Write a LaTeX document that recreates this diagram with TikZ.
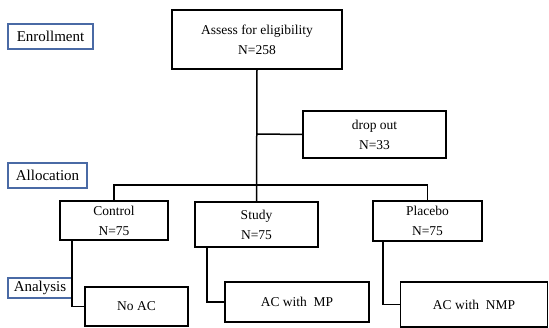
\documentclass[tikz,border=0pt]{standalone}
\usepackage{fontspec}
\setmainfont{Liberation Serif}
\definecolor{lblblue}{HTML}{4A6AA5}
\tikzset{
  box/.style={draw=black, line width=1.5pt, inner sep=0pt, align=center,
    font=\fontsize{13.5}{20}\selectfont},
  lbl/.style={draw=lblblue, line width=1.2pt, inner sep=0pt,
    font=\fontsize{15}{18}\selectfont},
  conn/.style={draw=black, line width=1.5pt}
}
\begin{document}
\begin{tikzpicture}[x=1pt,y=-1pt]
\useasboundingbox (0,0) rectangle (549,328);
% labels
\node[lbl, minimum width=85, minimum height=25] (enroll) at (50.5,36.5) {Enrollment};
\node[lbl, minimum width=79, minimum height=25] (alloc) at (47.5,175.5) {Allocation};
\node[lbl, minimum width=64, minimum height=20] (anal) at (40,288) {Analysis};
% boxes
\node[box, minimum width=170, minimum height=59] (assess) at (257,39.5) {Assess for eligibility\\N=258};
\node[box, minimum width=143, minimum height=47] (drop) at (374.5,134.5) {drop out\\N=33};
\node[box, minimum width=108, minimum height=39] (control) at (114,220.5) {Control\\N=75};
\node[box, minimum width=123, minimum height=45] (study) at (256.5,224.5) {Study\\N=75};
\node[box, minimum width=109, minimum height=40] (placebo) at (427.5,221) {Placebo\\N=75};
\node[box, minimum width=103, minimum height=39] (noac) at (136.5,306.5) {No AC};
\node[box, minimum width=144, minimum height=40] (acmp) at (297,302) {AC with \ MP};
\node[box, minimum width=147, minimum height=45] (acnmp) at (474,304.5) {AC with \ NMP};
% connectors
\coordinate (dj) at (257,134);
\coordinate (br) at (257,185);
\draw[conn] (assess.south) -- (study.north);
\draw[conn] (dj) -- (drop.west);
\draw[conn] (control.north) |- (br) -| (placebo.north);
\draw[conn] ([xshift=-42pt]control.south) |- (noac.west);
\draw[conn] ([xshift=-49.5pt]study.south) |- (acmp.west);
\draw[conn] ([xshift=-44.5pt]placebo.south) |- (acnmp.west);
\end{tikzpicture}
\end{document}
